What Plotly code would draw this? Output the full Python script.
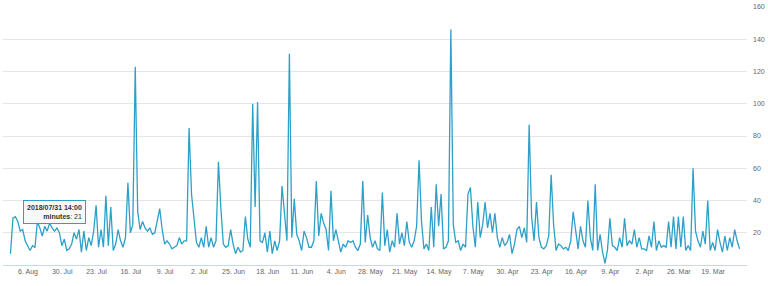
import pandas as pd
import plotly.graph_objects as go

# 12-hourly observations (minutes), chronological, starting 2018-03-13 14:00
start_time = "2018-03-13 14:00"
step = "12h"
minutes = [
    10, 15, 22, 11, 17, 9, 18, 8, 14, 22, 9,                 # 13-18 Mar
    14, 9, 40, 13, 21, 11, 15, 21, 60, 9, 12, 9, 30, 11,     # 19 Mar
    30, 10, 30, 11, 27, 11, 12, 11, 15, 9, 27, 11, 18, 9,    # 26 Mar
    10, 10, 17, 11, 22, 13, 15, 12, 29, 11, 17, 9, 11, 12,   # 2 Apr
    29, 9, 1, 8, 19, 9, 50, 9, 17, 40, 11, 15, 24, 10,       # 9 Apr
    22, 33, 15, 9, 11, 10, 12, 13, 9, 25, 56, 18, 12, 10,    # 16 Apr
    11, 17, 39, 15, 30, 87, 14, 23, 17, 24, 22, 13, 7, 19,   # 23 Apr
    14, 12, 17, 11, 17, 32, 20, 32, 23, 39, 25, 17, 39, 11,  # 30 Apr
    24, 48, 44, 11, 13, 9, 15, 14, 25, 146, 15, 11, 10, 44,  # 7 May
    24, 50, 11, 36, 9, 13, 10, 27, 65, 24, 15, 11, 14, 27,   # 14 May
    12, 20, 13, 32, 11, 15, 8, 22, 12, 45, 9, 10, 15, 11,    # 21 May
    17, 31, 14, 52, 13, 9, 11, 15, 14, 15, 11, 13, 8, 15,    # 28 May
    22, 15, 46, 9, 22, 26, 32, 18, 52, 15, 11, 11, 17, 21,   # 4 Jun
    9, 15, 19, 41, 17, 131, 15, 32, 49, 15, 9, 15, 7, 21,    # 11 Jun
    8, 20, 14, 15, 101, 36, 100, 11, 16, 30, 9, 8, 11, 7,    # 18 Jun
    13, 22, 12, 11, 13, 35, 64, 15, 11, 17, 11, 24, 11, 17,  # 25 Jun
    11, 14, 30, 44, 85, 15, 15, 13, 17, 12, 11, 10, 13, 15,  # 2 Jul
    13, 22, 35, 27, 20, 19, 23, 21, 23, 27, 22, 33, 123, 25, # 9 Jul
    20, 51, 17, 11, 15, 22, 13, 9, 36, 12, 43, 11, 22, 11,   # 16 Jul
    37, 21, 12, 17, 9, 21, 8, 22, 16, 20, 13, 10, 9, 16,     # 23 Jul
    12, 20, 23, 21, 23, 26, 21, 24, 18, 23, 27, 11, 12, 9,   # 30 Jul
    12, 15, 22, 21, 27, 30, 29, 7,                           # 6-9 Aug
]
times = pd.date_range(start_time, periods=len(minutes), freq=step)

tick_dates = ["2018-03-19", "2018-03-26", "2018-04-02", "2018-04-09", "2018-04-16",
              "2018-04-23", "2018-04-30", "2018-05-07", "2018-05-14", "2018-05-21",
              "2018-05-28", "2018-06-04", "2018-06-11", "2018-06-18", "2018-06-25",
              "2018-07-02", "2018-07-09", "2018-07-16", "2018-07-23", "2018-07-30",
              "2018-08-06"]
tick_labels = ["19. Mar", "26. Mar", "2. Apr", "9. Apr", "16. Apr", "23. Apr", "30. Apr",
               "7. May", "14. May", "21. May", "28. May", "4. Jun", "11. Jun", "18. Jun",
               "25. Jun", "2. Jul", "9. Jul", "16. Jul", "23. Jul", "30. Jul", "6. Aug"]
y_ticks = [20, 40, 60, 80, 100, 120, 140, 160]

tooltip_time = "2018-07-31 14:00"
tooltip_label = "2018/07/31 14:00"
tooltip_value = 21

line_color = "#2ca0c8"
font_family = "Liberation Sans, Arial, sans-serif"

fig = go.Figure()
fig.add_trace(go.Scatter(
    x=times, y=minutes, mode="lines", name="minutes",
    line=dict(color=line_color, width=1.3),
    hoverinfo="skip",
))

fig.add_annotation(
    x=tooltip_time, y=tooltip_value, xref="x", yref="y",
    showarrow=False, xanchor="center", yanchor="bottom", yshift=7,
    text=f"<b>{tooltip_label}</b><br><b>minutes</b>: {tooltip_value}",
    align="right",
    font=dict(family=font_family, size=7, color="#333333"),
    bgcolor="rgba(247,247,247,0.9)", bordercolor=line_color, borderwidth=1, borderpad=3,
)

fig.update_layout(
    width=768, height=286,
    margin=dict(l=3, r=21, t=5, b=21),
    paper_bgcolor="white", plot_bgcolor="white",
    showlegend=False,
    font=dict(family=font_family, size=7, color="#666666"),
    xaxis=dict(
        range=["2018-08-11 02:40", "2018-03-12 01:30"],
        tickvals=tick_dates, ticktext=tick_labels,
        showgrid=False, zeroline=False,
        showline=True, linecolor="#ccd6eb", linewidth=1,
        ticks="", tickfont=dict(size=7, color="#666666"),
    ),
    yaxis=dict(
        side="right", range=[0, 160], tickvals=y_ticks,
        showgrid=True, gridcolor="#e6e6e6", gridwidth=1,
        zeroline=False, showline=False, ticks="",
        tickfont=dict(size=7, color="#666666"),
        ticklabelstandoff=5,
    ),
)

fig.write_html("out.html")
